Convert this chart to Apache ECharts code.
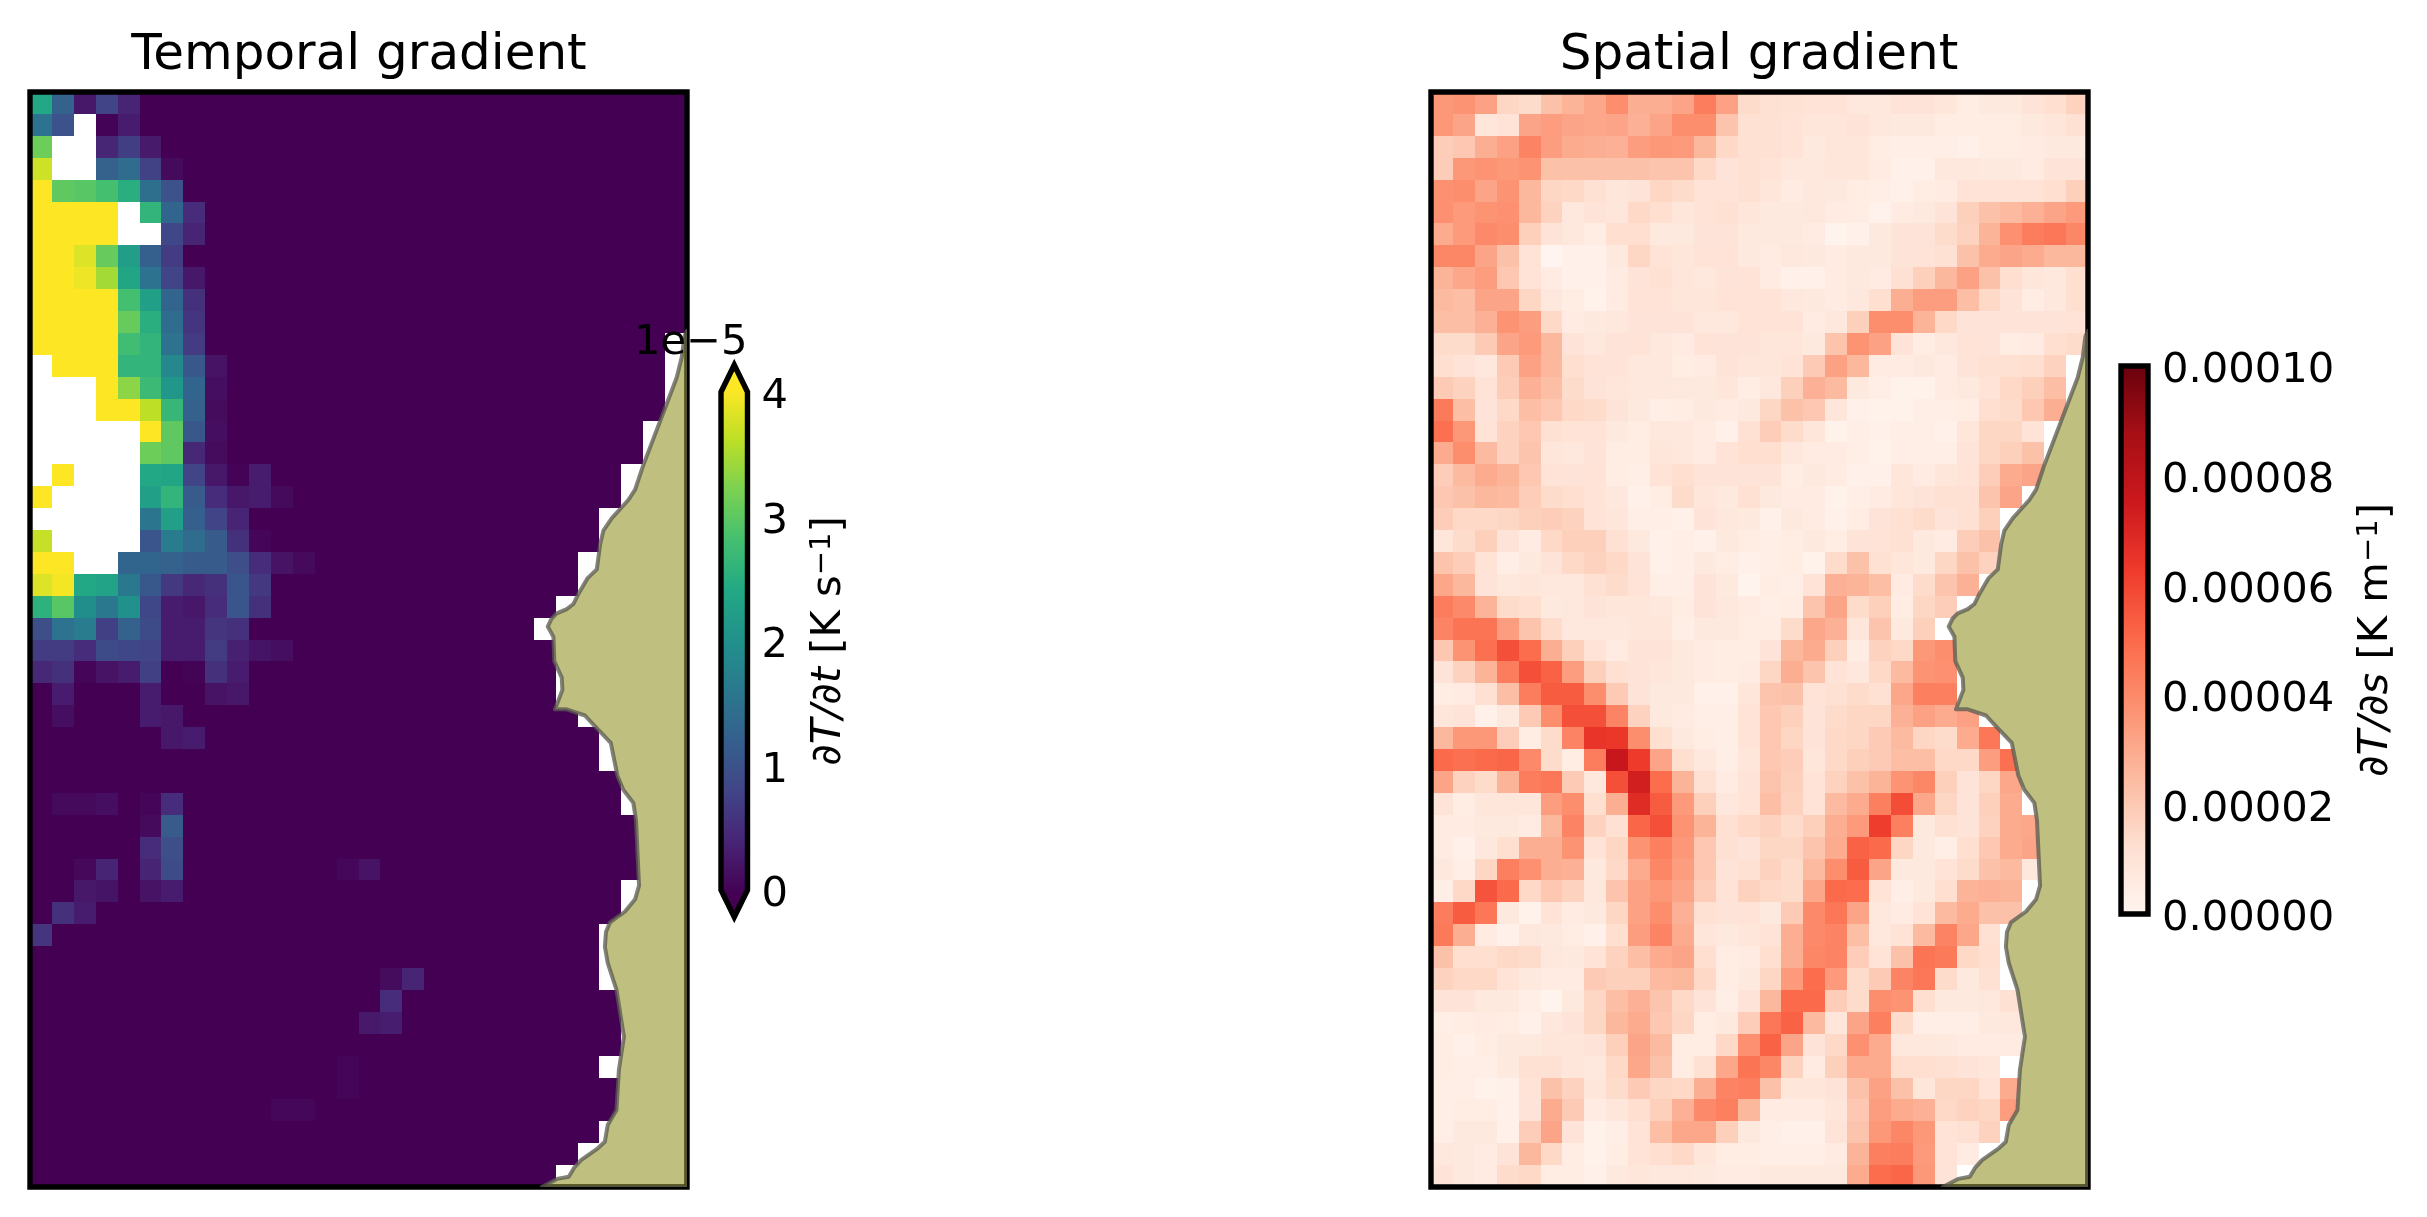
<!DOCTYPE html>
<html>
<head>
<meta charset="utf-8">
<title>Temporal and spatial gradient</title>
<script src="https://cdn.jsdelivr.net/npm/echarts@6/dist/echarts.min.js"></script>
<style>
    html, body { margin: 0; padding: 0; background: #fff; }
    #chart { width: 2427px; height: 1217px; }
</style>
</head>
<body>
<div id="chart"></div>
<script>
var n = null

// colormaps
var viridis = ['#440154','#482475','#414487','#355f8d','#2a788e','#21918c','#22a884','#44bf70','#7ad151','#bddf26','#fde725']
var reds = ['#fff5f0','#fee0d2','#fcbba1','#fc9272','#fb6a4a','#ef3b2c','#cb181d','#a50f15','#67000d']

// dT/dt in 1e-5 K/s, by row from the top. Cells past the listed ones are 0 up to temporalLastCol
var temporalRows = [
    [2.4,1.25,.25,.8,.4],
    [1.5,1,n,.02,.3],
    [3.1,n,n,.42,.72,.28],
    [3.7,n,n,1.25,1.4,.78,.1],
    [4,3,2.95,2.8,2.5,1.45,1],
    [4,4,4,4,n,2.6,1.3,.5],
    [4,4,4,4,n,n,.85,.4],
    [4,4,3.8,3.05,2.2,1.2,.7],
    [4,4,3.9,3.45,2.35,1.5,.8,.25],
    [4,4,4,4,2.8,2.25,1.3,.55],
    [4,4,4,4,3.05,2.5,1.4,.6],
    [4,4,4,4,2.75,2.6,1.5,.7],
    [n,4,4,4,2.6,2.6,1.85,1.1,.2],
    [n,n,n,4,3.3,2.7,2.1,1.3,.15],
    [n,n,n,4,4,3.6,2.65,1.25,.12],
    [n,n,n,n,n,4,3,1.1,.15],
    [n,n,n,n,n,3.1,3,.45,.12],
    [n,4,n,n,n,2.4,2.35,.8,.25,.02,.3],
    [4,n,n,n,n,2.25,2.6,1.15,.5,.25,.3,.1],
    [n,n,n,n,n,1.55,2.25,1.2,.8,.4],
    [3.65,n,n,n,n,1.05,1.65,1.4,1.15,.55,.05],
    [4,4,n,n,1.3,1.3,1.25,1.15,1.15,.95,.5,.2,.1],
    [3.8,3.95,2.4,2.3,1.6,1.1,.65,.45,.55,1.05,.65],
    [2.55,2.95,1.95,1.6,2,.85,.3,.25,.5,1.05,.55],
    [.95,1.5,1.65,.75,1.25,.9,.3,.3,.6,.55],
    [.7,.7,.5,.9,.85,.8,.3,.3,.7,.35,.22,.15],
    [.45,.55,.05,.2,.3,.75,0,.03,.55,.3],
    [0,.3,0,0,0,.3,0,0,.2,.25],
    [0,.15,0,0,0,.3,.25],
    [0,0,0,0,0,0,.25,.3],
    [],
    [],
    [0,.1,.1,.15,0,.05,.5],
    [0,0,0,0,0,.1,1.15],
    [0,0,0,0,0,.5,.95],
    [0,0,.08,.4,0,.4,.9,0,0,0,0,0,0,0,.07,.2],
    [0,0,.25,.22,0,.2,.3],
    [0,.55,.3],
    [.6],
    [],
    [0,0,0,0,0,0,0,0,0,0,0,0,0,0,0,0,.12,.4],
    [0,0,0,0,0,0,0,0,0,0,0,0,0,0,0,0,.5],
    [0,0,0,0,0,0,0,0,0,0,0,0,0,0,0,.27,.33],
    [],
    [0,0,0,0,0,0,0,0,0,0,0,0,0,0,.05],
    [0,0,0,0,0,0,0,0,0,0,0,0,0,0,.05],
    [0,0,0,0,0,0,0,0,0,0,0,.07,.07],
    [],
    [],
    []
]
var temporalLastCol = [29,29,29,29,29,29,29,29,29,29,29,28,28,28,28,27,27,26,26,25,25,24,24,23,22,23,23,23,24,25,25,26,26,27,27,27,26,26,25,25,25,26,26,26,25,26,26,25,24,23]

// dT/ds in 1e-5 K/m, by row from the top. Rows stop at the last cell before land
var spatialRows = [
    [3.6,3.7,3.3,1.6,1.4,2.3,2.7,3.1,3.9,2.9,2.9,3.2,4.4,3.3,1.4,1.2,1.15,1.1,1.1,.8,.8,1,1,.9,.5,.7,.7,1,1.3,1.7],
    [3.6,3.2,.9,1.1,3.2,3.4,3.2,3.1,3.2,2.8,3.2,3.9,3.9,2.2,1.2,1.2,1.1,.9,.9,1,.8,.7,.7,.5,.5,.5,.5,.7,.9,1.2],
    [1.9,2.1,2.9,3.3,4.2,3.4,3,2.9,2.8,3.4,3.6,3.5,2.6,1.5,1.2,1.2,1.1,.7,.9,.9,.5,.4,.4,.4,.3,.5,.5,.6,.7,.7],
    [1.9,3.6,3.7,3.6,3.7,2.3,2.3,2.3,2.3,2.3,2.2,2.2,1.5,1,1.2,1.1,.8,.8,.9,.9,.6,.3,.3,.8,.8,.7,.7,.6,1,1],
    [3.8,3.9,3.2,3.7,2.6,1.6,1.5,1.2,.9,1,1.6,1.4,1.1,1.1,1.2,.9,.6,.8,.7,.5,.4,.3,.5,.6,1.1,1.1,1.1,1.1,1.3,1.8],
    [3.8,3.5,3.7,3.8,2.6,1.7,.8,1,.9,1.5,1.3,.9,1.1,1.2,.9,.7,.7,.8,.6,.5,.15,.6,.7,1,1.8,2.3,2.5,2.8,3.2,3.5],
    [3,3.5,4,3.9,1.8,1,.8,.5,1.3,1.3,.7,.7,1,1,.7,.7,.7,.6,.1,.3,.7,1,1,1.4,1.7,2.7,3.8,4.4,4.6,4.1],
    [4.1,4.1,3.2,2.3,1.1,.05,.3,.3,.7,1.6,1.1,.9,1.1,1.1,.7,.6,.8,.7,.6,.7,.7,1,1.1,1.2,2.3,3,3.2,3,2.6,2.6],
    [2.7,3.1,3.4,2.1,1.1,.6,.3,.3,.6,1,1.2,.9,.8,1,1.1,.6,.3,.3,.6,.7,.6,1.2,1.8,2.6,3.3,2.3,1.3,.9,.8,1.3],
    [2.5,2.4,3.2,3.2,1.6,.8,.5,.2,.6,1.1,1.1,.9,.9,1.1,1.1,1.1,.8,.7,.6,.8,1.3,2.9,3.4,3.4,2.4,1.5,1,.5,.8,1.3],
    [2.4,2.4,2.8,3.7,3.4,1.5,.6,.7,.8,1,1,1,.8,.8,1.1,1.1,1.1,.6,.8,1.8,3.9,3.9,2.7,1.5,1,1,1,1,1,1.1],
    [1.4,1.4,2,3.2,3.5,2.6,1,.8,1,1.1,.8,.6,1.1,1,1,.9,.9,.7,2.2,3.7,3.3,1,.5,.8,1.1,1,.5,.6,1.3,1.4],
    [1.3,1,.8,2,3.3,2.6,1.3,1.1,1,.8,.8,.5,.6,1,.9,.9,1.1,2,3.3,2.6,.6,.6,.7,.6,1,1.2,1.2,1.3,1.7],
    [2,1.7,1.1,1.9,2.8,2.4,1.4,1,.9,.8,.8,.7,.7,.9,.5,.8,1.8,2.8,2.5,.7,.4,.2,.2,.6,.7,1.1,1.5,1.8,2.4],
    [4.5,2.4,1,1.5,2.4,2.1,1.5,1.4,1,.7,.4,.5,.7,.6,.7,1.6,2.3,2.1,.9,.3,.2,.2,.4,.4,.5,1.3,1.4,2.1,2.9],
    [4.8,3.6,1.1,1.7,2.1,1.2,1.1,1.1,.7,.5,.8,.8,.6,.3,1.2,1.9,1.4,.9,.2,.4,.3,.4,.4,.3,.9,1.6,1.6,1.1],
    [3,3.9,2.5,1.7,2.2,.9,.8,1,.5,.5,.9,.8,.6,1.1,1.3,1.3,.8,.6,.6,.4,.2,.4,.4,.4,1,1.6,1.8,2.3],
    [1.9,2.5,3,2.7,2.1,1.1,1,1.1,.5,.4,1.1,1.3,1,1,1,1,.5,.7,.6,.3,.3,.9,.6,.9,1.1,1.9,3,3.2],
    [2.1,2.3,2.6,2.5,1.9,1.4,1.3,1.1,.8,.3,.5,1.4,.9,.7,1.2,.7,.6,.6,.2,.4,.6,.9,1,1.2,1.2,2.2,3.2],
    [1.9,1.5,1.5,1.6,1.8,1.9,1.7,1.1,.9,.4,.4,.3,1,.8,.7,.3,.7,.6,.3,.5,1,1.2,1.4,1,1.2,1.8],
    [.9,1.4,1.8,1,.6,1.5,1.8,1.8,1.2,.7,.3,.4,.3,.7,.5,.4,.5,.7,.5,1,1.1,1.2,.7,.6,1.9,2.3],
    [2.2,1.9,1.1,.4,.7,1,1.5,1.7,1.5,1,.3,.4,.7,.5,.3,.4,.5,.2,1.4,2.3,1.2,.9,.7,1.6,2.3,1.7],
    [3.1,2.6,1,.8,.9,.8,.8,1.2,1.4,1.1,.4,.4,1,.7,.1,.5,.4,1.1,2.8,2.7,2.4,.6,1.4,2.2,2.8],
    [4.4,4,2.7,1.4,1.3,.7,.8,1,.9,.9,.8,.5,1,.8,.6,.4,.5,2.2,3.2,1.4,1.8,.5,1.6,1.9],
    [4.2,4.7,4.7,3.4,2.2,1.4,.8,.8,.8,.9,.9,.4,.7,.7,.5,.5,1.4,3.1,2.8,.9,2.2,.7,1.8],
    [2.1,3.7,4.8,5.7,4.9,2.9,1.8,1.1,.6,1,1,.7,.6,.5,.5,1,2.6,3,1.8,.5,1.7,1.5,3.6,3.9],
    [1,1.7,2.7,4.4,5.7,5.2,3.4,1.8,1.2,1,.9,.7,.6,.5,.6,1.6,2.9,2.2,1.1,.8,1.5,2.5,3.7,3.8],
    [.5,.6,1.2,2.4,4.4,5.4,5.4,3.9,2,1,.7,.7,.3,.3,.9,2.2,2.3,1.1,1.2,1.4,1.2,3.1,4.3,4.3],
    [.9,1,.3,.7,2,3.9,5.7,5.7,4.2,1.7,.7,.6,.4,.4,1.1,2.1,1.8,1,1.4,1.6,1.6,2.8,3.3,3,3.3],
    [2.6,3.6,3.6,1.9,.5,1.4,4.2,6.5,6.4,3.9,1.3,.7,.5,.4,1.1,2.1,1.6,1,1.5,1.6,2,2.5,1.6,1.4,3,4.6],
    [5,4.8,5,5.1,4,1.4,.5,4.4,7.6,6.3,3.2,1.3,.8,.4,.9,2.1,1.9,.9,1.5,1.8,2,2.4,2.4,1.5,1.5,3.4,4.8],
    [3.2,1.7,1.4,2.7,4.4,4.6,2,.8,5.7,7.3,4.9,2.7,1.2,.6,1,2.2,1.8,1.1,1.7,2.3,2.7,3.7,4.1,1.8,1,1.6,3.1],
    [1,.5,.9,.9,.9,3.4,3.9,1.3,2.9,6.8,5.4,3.5,1.8,.8,1.1,2.4,1.7,1.1,2.5,3,4.3,5.8,3.1,1.6,1,1.8,3],
    [.6,.6,.7,.7,.6,2.6,4.2,1.7,1.2,5.1,5.7,3.7,2.7,1.2,1.5,1.7,1.4,1.8,2.9,3.5,6.2,4.3,.7,1.2,1,1.7,3,3.1],
    [.6,.3,.8,1.3,2.9,2.9,3.7,1.1,1.6,3.7,4.3,3.6,2.1,1.2,1,1.6,1.6,2.2,3,5.2,5,1.6,.7,.4,1.3,2.1,3,3.2],
    [.8,.4,1.6,4.3,3.8,2.9,2.8,.7,1.5,3,4.1,3.4,2.1,1,1.2,1.7,1.4,2.5,3.9,5.4,3.2,.7,.7,1.1,1.4,2.3,2.5,.8],
    [.4,1.5,5.6,5,1.5,2.1,1.7,.8,2.2,3.3,3.6,3.2,1.9,1.1,1.7,1.5,1.4,3.1,5,4.9,1.1,.4,.7,1.3,2.7,2.8,2.7],
    [4.4,5.4,4.6,.7,.2,1.1,.6,.7,1.6,3.3,3.9,2.8,1.2,1,1.1,.7,2,4,4.6,3.2,.8,.6,1.1,2.5,3,2.3,2.3],
    [4.5,2.9,.6,.3,.8,.7,.5,.3,1.3,3.4,4.2,3,.9,.7,.9,1.1,2.9,4,4.2,2.4,.8,1.1,2.5,4.2,3.1,1.2],
    [2.3,1.3,1.3,1.5,1.4,.8,.7,1.1,1.7,2.4,3,3.2,1.3,.5,.6,1.3,2.9,4.1,4.2,1.9,1.1,2.3,4.7,4.5,1.5,1.3],
    [1.7,1.5,1.5,1.1,.7,.6,.6,2,1.8,1.8,2.5,2.6,1.5,.5,.7,1.6,3.5,4.9,3.5,1.4,2,4.2,4.6,1.4,.7,1.2],
    [1,1,.7,.7,.4,.1,.7,1.6,2.4,2.8,2.2,1.5,1,.4,1,2.6,5,5,1.9,1.4,3.9,3.7,1.3,.7,.7,.8,1.2],
    [.4,.5,.6,.5,.3,.8,1,1.6,2.6,3,2.1,1.6,.5,.7,1.9,4.6,5.2,2.5,.9,3.2,4.3,1.4,.4,.4,.4,.7,.8],
    [.5,.3,.5,.7,.7,.9,.9,1,1.8,3.2,2.5,.5,.5,1.5,3.8,5.2,3.2,1,1.5,3.8,3,.8,.8,.7,.6,.6,.6],
    [.5,.4,.4,.7,1.2,1.2,.9,.8,1.5,3.1,2.3,.5,1.2,3.1,4.7,4.1,1.7,.6,1.8,3,3,1.3,1.3,1.2,1,.9],
    [.4,.4,.2,.3,1.1,2.3,1.7,.9,1.4,2,1.6,1.5,2.9,4.2,4.3,2.3,.9,.9,1,2.3,3.3,2.3,.9,1.6,1.6,1.1,3],
    [.4,.5,.5,.3,1,3,2,.6,.9,1.3,1.8,2.8,4,4.3,2.6,.6,.6,.6,.9,2.1,3.4,3,2.8,1.5,1.7,1.6,3.4],
    [.4,.7,.7,.3,1.9,3.2,1,.2,.4,1.1,2.4,3.1,3.1,1.8,.7,.4,.3,.3,1,2.2,3.6,4.1,3.6,1.1,1.2,1.7],
    [.8,.7,.6,1,2.6,1.5,.5,.2,.5,1.1,1.3,1.5,.9,.5,.5,.4,.4,.4,.6,2.7,4.3,4.4,3.5,1.1,.6],
    [1,.7,.6,1.4,1.5,.5,.5,.3,.7,.9,.8,.8,.7,.6,.6,.7,.7,.7,.7,3,4.9,5.1,3.6,1]
]

// coastline as [column, row] in grid units
var coastline = [
    [30,10.9],[29.88,11.17],[29.76,12.11],[29.53,13.04],[29,14.43],[28,17.05],[27.63,18.16],[27.32,18.63],
    [26.56,19.47],[26.18,20.03],[26.03,20.68],[25.88,21.8],[25.45,22.21],[25.04,22.92],[24.81,23.38],[24.51,23.61],
    [24.05,23.81],[23.82,24.04],[23.64,24.41],[23.9,24.87],[23.94,25.99],[24.28,26.74],[24.31,27.3],[23.97,28.19],
    [24.51,28.19],[25.34,28.47],[25.8,28.97],[26.52,29.72],[26.82,31.21],[27.09,31.86],[27.55,32.46],[27.67,33.26],
    [27.81,36.24],[27.63,36.86],[27.17,37.42],[26.48,37.92],[26.3,38.36],[26.25,39.03],[26.38,39.77],[26.78,41],
    [27.12,43.14],[26.89,44.66],[26.78,46.48],[26.38,47.17],[26.25,47.93],[25.94,48.22],[25.16,48.77],[24.84,49.13],
    [24.6,49.53],[24.06,49.63],[23.37,50],[30,50]
]

var temporalTicks = [0, 1, 2, 3, 4]
var spatialTicks = [0, 2, 4, 6, 8, 10]

var FONT = 'DejaVu Sans'
var SPINE = 5.4

function temporalCells() {
    var out = []
    temporalLastCol.forEach(function (last, r) {
        for (var c = 0; c <= last; c++) {
            var v = c < temporalRows[r].length ? temporalRows[r][c] : 0
            if (v !== null) out.push([c, r, v])
        }
    })
    return out
}

function spatialCells() {
    var out = []
    spatialRows.forEach(function (row, r) {
        row.forEach(function (v, c) { out.push([c, r, v]) })
    })
    return out
}

function renderCell(params, api) {
    var a = api.coord([api.value(0), api.value(1)])
    var b = api.coord([api.value(0) + 1, api.value(1) + 1])
    var x = Math.round(a[0]), y = Math.round(a[1])
    return {
        type: 'rect',
        shape: { x: x, y: y, width: Math.round(b[0]) - x, height: Math.round(b[1]) - y },
        style: { fill: api.visual('color') }
    }
}

function renderFrame(params, api) {
    var a = api.coord([0, 0]), b = api.coord([30, 50])
    return {
        type: 'rect',
        shape: { x: a[0], y: a[1], width: b[0] - a[0], height: b[1] - a[1] },
        style: { fill: 'none', stroke: '#000', lineWidth: SPINE }
    }
}

// white base so the cells do not show through the see-through land on top
function renderLandBase(params, api) {
    return {
        type: 'polygon',
        shape: { points: coastline.map(function (p) { return api.coord(p) }) },
        style: { fill: '#fff' }
    }
}

function renderLand(params, api) {
    return {
        type: 'polygon',
        shape: { points: coastline.map(function (p) { return api.coord(p) }) },
        style: { fill: 'rgba(128,128,0,0.5)', stroke: 'rgba(90,90,80,0.75)', lineWidth: 4, lineJoin: 'round' }
    }
}

// colorbar outline, tip is the length of the pointed ends in axis units
function barRenderer(colors, vmax, tip) {
    return function (params, api) {
        var pts = tip ? [[0, 0], [.5, -tip], [1, 0], [1, vmax], [.5, vmax + tip], [0, vmax]]
                      : [[0, 0], [1, 0], [1, vmax], [0, vmax]]
        var total = vmax + 2 * tip
        var stops = colors.map(function (col, i) {
            return { offset: (tip + vmax * (1 - i / (colors.length - 1))) / total, color: col }
        }).reverse()
        return {
            type: 'polygon',
            shape: { points: pts.map(function (p) { return api.coord(p) }) },
            style: {
                fill: new echarts.graphic.LinearGradient(0, 0, 0, 1, stops),
                stroke: '#000', lineWidth: SPINE, lineJoin: 'miter'
            }
        }
    }
}

function mapAxes(i) {
    return {
        x: { type: 'value', gridIndex: i, min: 0, max: 30, show: false },
        y: { type: 'value', gridIndex: i, min: 0, max: 50, inverse: true, show: false }
    }
}

var m0 = mapAxes(0), m1 = mapAxes(1)
var richLabel = {
    i: { fontFamily: FONT, fontStyle: 'italic', fontSize: 41.67, color: '#000' },
    r: { fontFamily: FONT, fontSize: 41.67, color: '#000' },
    s: { fontFamily: FONT, fontSize: 29, color: '#000', verticalAlign: 'top', padding: [0, 0, 14, 0] }
}

var option = {
    animation: false,
    backgroundColor: '#fff',
    textStyle: { fontFamily: FONT },
    title: [
        { text: 'Temporal gradient', left: 354, top: 26, textAlign: 'center', textStyle: { fontFamily: FONT, fontSize: 50, fontWeight: 'normal', color: '#000' } },
        { text: 'Spatial gradient', left: 1754, top: 26, textAlign: 'center', textStyle: { fontFamily: FONT, fontSize: 50, fontWeight: 'normal', color: '#000' } }
    ],
    grid: [
        { left: 30, top: 92, width: 657, height: 1095 },
        { left: 1431, top: 92, width: 657, height: 1095 },
        { left: 721, top: 392, width: 26.5, height: 498 },
        { left: 2121, top: 366, width: 27, height: 548 }
    ],
    xAxis: [
        m0.x, m1.x,
        { type: 'value', gridIndex: 2, min: 0, max: 1, show: false },
        { type: 'value', gridIndex: 3, min: 0, max: 1, show: false }
    ],
    yAxis: [
        m0.y, m1.y,
        {
            type: 'value', gridIndex: 2, position: 'right', min: 0, max: 4, interval: 1,
            splitLine: { show: false }, axisLine: { show: false }, axisTick: { show: false },
            axisLabel: { margin: 14, verticalAlign: 'top', lineHeight: 11, fontFamily: FONT, fontSize: 41.67, color: '#000' },
            name: '{i|∂T/∂t}{r|\u00a0[K\u00a0s}{s|−1}{r|]}', nameLocation: 'middle', nameRotate: 90, nameGap: 60,
            nameTextStyle: { rich: richLabel }
        },
        {
            type: 'value', gridIndex: 3, position: 'right', min: 0, max: 10, interval: 2,
            splitLine: { show: false }, axisLine: { show: false }, axisTick: { show: false },
            axisLabel: {
                margin: 14, verticalAlign: 'top', lineHeight: 11, fontFamily: FONT, fontSize: 41.67, color: '#000',
                formatter: function (v) { return (v * 1e-5).toFixed(5) }
            },
            name: '{i|∂T/∂s}{r|\u00a0[K\u00a0m}{s|−1}{r|]}', nameLocation: 'middle', nameRotate: 90, nameGap: 207,
            nameTextStyle: { rich: richLabel }
        }
    ],
    visualMap: [
        { show: false, type: 'continuous', seriesIndex: 0, dimension: 2, min: 0, max: 4, inRange: { color: viridis } },
        { show: false, type: 'continuous', seriesIndex: 4, dimension: 2, min: 0, max: 10, inRange: { color: reds } }
    ],
    series: [
        { type: 'custom', xAxisIndex: 0, yAxisIndex: 0, silent: true, z: 1, data: temporalCells(), renderItem: renderCell },
        { type: 'custom', xAxisIndex: 0, yAxisIndex: 0, silent: true, z: 2, clip: true, data: [[0, 0]], renderItem: renderLandBase },
        { type: 'custom', xAxisIndex: 0, yAxisIndex: 0, silent: true, z: 3, data: [[0, 0]], renderItem: renderFrame },
        { type: 'custom', xAxisIndex: 0, yAxisIndex: 0, silent: true, z: 4, clip: true, data: [[0, 0]], renderItem: renderLand },
        { type: 'custom', xAxisIndex: 1, yAxisIndex: 1, silent: true, z: 1, data: spatialCells(), renderItem: renderCell },
        { type: 'custom', xAxisIndex: 1, yAxisIndex: 1, silent: true, z: 2, clip: true, data: [[0, 0]], renderItem: renderLandBase },
        { type: 'custom', xAxisIndex: 1, yAxisIndex: 1, silent: true, z: 3, data: [[0, 0]], renderItem: renderFrame },
        { type: 'custom', xAxisIndex: 1, yAxisIndex: 1, silent: true, z: 4, clip: true, data: [[0, 0]], renderItem: renderLand },
        { type: 'custom', xAxisIndex: 2, yAxisIndex: 2, silent: true, z: 2, data: [[0, 0]], renderItem: barRenderer(viridis, temporalTicks[4], .217) },
        { type: 'custom', xAxisIndex: 3, yAxisIndex: 3, silent: true, z: 2, data: [[0, 0]], renderItem: barRenderer(reds, spatialTicks[5], 0) }
    ],
    graphic: [
        { type: 'text', z: 100, left: 634, top: 322, style: { text: '1e−5', fontFamily: FONT, fontSize: 41.67, fill: '#000' } }
    ]
}

var myChart = echarts.init(document.getElementById('chart'), null, { renderer: 'canvas' })
myChart.setOption(option)
</script>
</body>
</html>
